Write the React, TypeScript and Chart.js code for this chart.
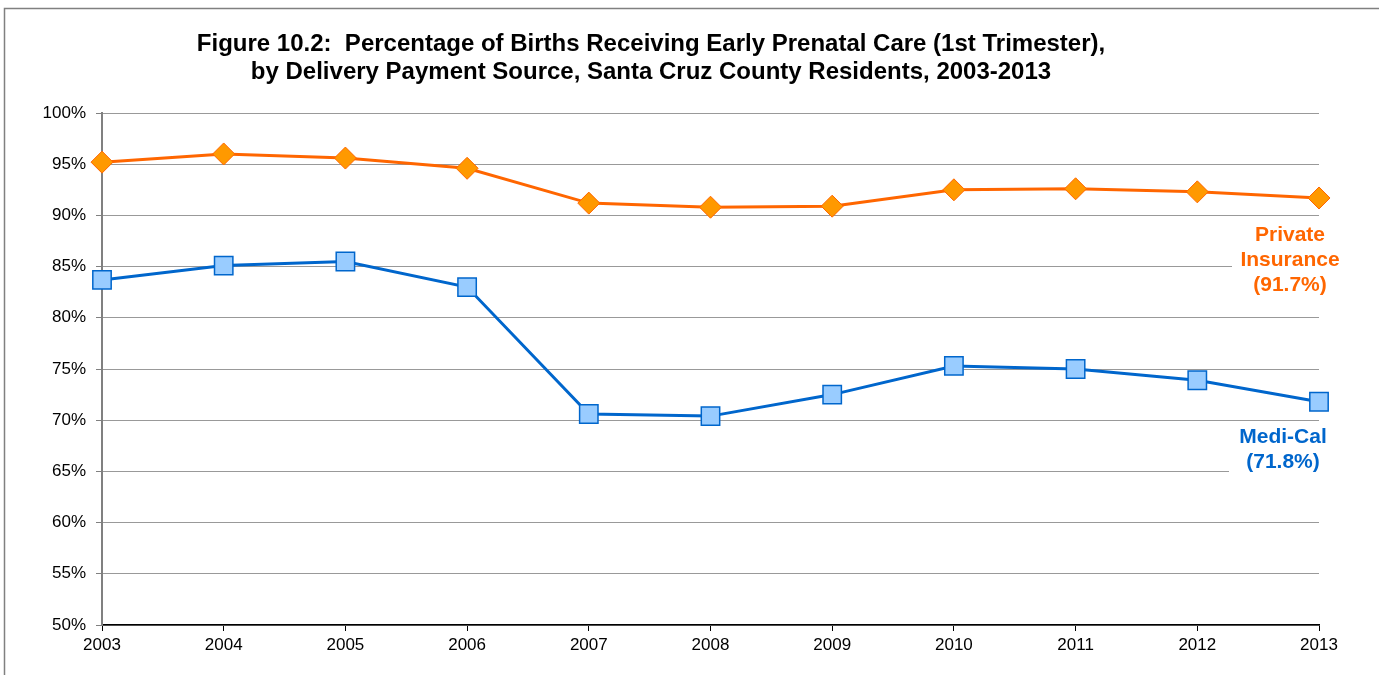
import React, { useEffect, useRef } from "react";
import { Chart, registerables } from "chart.js";

Chart.register(...registerables);

const years = ["2003", "2004", "2005", "2006", "2007", "2008", "2009", "2010", "2011", "2012", "2013"];
const privateInsurance = [95.2, 96.0, 95.6, 94.6, 91.2, 90.8, 90.9, 92.5, 92.6, 92.3, 91.7];
const mediCal = [83.7, 85.1, 85.5, 83.0, 70.6, 70.4, 72.5, 75.3, 75.0, 73.9, 71.8];
const titleLines = [
  "Figure 10.2:  Percentage of Births Receiving Early Prenatal Care (1st Trimester),",
  "by Delivery Payment Source, Santa Cruz County Residents, 2003-2013",
];
const privateLabel = ["Private", "Insurance", "(91.7%)"];
const mediCalLabel = ["Medi-Cal", "(71.8%)"];

const ORANGE = "#FF6600";
const ORANGE_FILL = "#FF9900";
const BLUE = "#0066CC";
const BLUE_FILL = "#99CCFF";
const FONT = "'Liberation Sans', Arial, sans-serif";

const decorPlugin = {
  id: "decor",
  beforeDraw(chart: any) {
    const ctx = chart.ctx;
    ctx.save();
    ctx.fillStyle = "#ffffff";
    ctx.fillRect(0, 0, chart.width, chart.height);
    ctx.strokeStyle = "#808080";
    ctx.lineWidth = 1.5;
    ctx.strokeRect(4.5, 8.5, 1420, 700);
    ctx.fillStyle = "#000000";
    ctx.font = `bold 24px ${FONT}`;
    ctx.textAlign = "center";
    ctx.textBaseline = "middle";
    ctx.fillText(titleLines[0], 651, 44);
    ctx.fillText(titleLines[1], 651, 72);
    ctx.restore();
  },
  beforeDatasetsDraw(chart: any) {
    const ctx = chart.ctx;
    const y = chart.scales.y;
    ctx.save();
    ctx.fillStyle = "#ffffff";
    const pTop = y.getPixelForValue(privateInsurance[privateInsurance.length - 1]) + 20;
    ctx.fillRect(1232, pTop, 140, 78);
    const mTop = y.getPixelForValue(mediCal[mediCal.length - 1]) + 22;
    ctx.fillRect(1229, mTop, 140, 54);
    ctx.restore();
  },
  afterDatasetsDraw(chart: any) {
    const ctx = chart.ctx;
    const y = chart.scales.y;
    ctx.save();
    ctx.font = `bold 21px ${FONT}`;
    ctx.textAlign = "center";
    ctx.textBaseline = "middle";
    const pY = y.getPixelForValue(privateInsurance[privateInsurance.length - 1]) + 37;
    ctx.fillStyle = ORANGE;
    privateLabel.forEach((t, i) => ctx.fillText(t, 1290, pY + i * 25));
    const mY = y.getPixelForValue(mediCal[mediCal.length - 1]) + 35;
    ctx.fillStyle = BLUE;
    mediCalLabel.forEach((t, i) => ctx.fillText(t, 1283, mY + i * 25));
    ctx.restore();
  },
};

export default function App() {
  const ref = useRef<HTMLCanvasElement>(null);
  useEffect(() => {
    if (!ref.current) return;
    const chart = new Chart(ref.current, {
      type: "line",
      data: {
        labels: years,
        datasets: [
          {
            label: "Private Insurance",
            data: privateInsurance,
            borderColor: ORANGE,
            backgroundColor: ORANGE_FILL,
            borderWidth: 3,
            pointStyle: "rectRot",
            pointRadius: 11,
            pointBorderColor: ORANGE,
            pointBackgroundColor: ORANGE_FILL,
            pointBorderWidth: 1,
            tension: 0,
          },
          {
            label: "Medi-Cal",
            data: mediCal,
            borderColor: BLUE,
            backgroundColor: BLUE_FILL,
            borderWidth: 3,
            pointStyle: "rect",
            pointRadius: 13,
            pointBorderColor: BLUE,
            pointBackgroundColor: BLUE_FILL,
            pointBorderWidth: 1.5,
            tension: 0,
          },
        ],
      },
      options: {
        animation: false,
        responsive: false,
        events: [],
        layout: { padding: { left: 0, right: 60, top: 113, bottom: 0 } },
        plugins: {
          legend: { display: false },
          title: { display: false },
          tooltip: { enabled: false },
        },
        scales: {
          x: {
            offset: false,
            grid: {
              drawOnChartArea: false,
              drawTicks: true,
              tickLength: 6,
              tickColor: "#000000",
              tickWidth: 1,
            },
            border: { color: "#000000", width: 1.5 },
            ticks: {
              color: "#000000",
              font: { family: FONT, size: 17 },
              padding: 4,
              maxRotation: 0,
            },
            afterFit(scale: any) {
              scale.height = 50;
            },
          },
          y: {
            min: 50,
            max: 100,
            grid: {
              color: "#999999",
              lineWidth: 1,
              borderDash: [1, 1],
              tickLength: 6,
              tickColor: "#808080",
              tickBorderDash: [],
              tickWidth: 1,
            },
            border: { color: "#808080", width: 2 },
            ticks: {
              stepSize: 5,
              color: "#000000",
              font: { family: FONT, size: 17 },
              padding: 10,
              callback: (v: any) => `${v}%`,
            },
            afterFit(scale: any) {
              scale.width = 102;
            },
          },
        },
      },
      plugins: [decorPlugin],
    });
    return () => chart.destroy();
  }, []);
  return (
    <div style={{ position: "absolute", left: 0, top: 0, width: 1379, height: 675, overflow: "hidden" }}>
      <canvas ref={ref} width={1379} height={675} style={{ display: "block" }} />
    </div>
  );
}
